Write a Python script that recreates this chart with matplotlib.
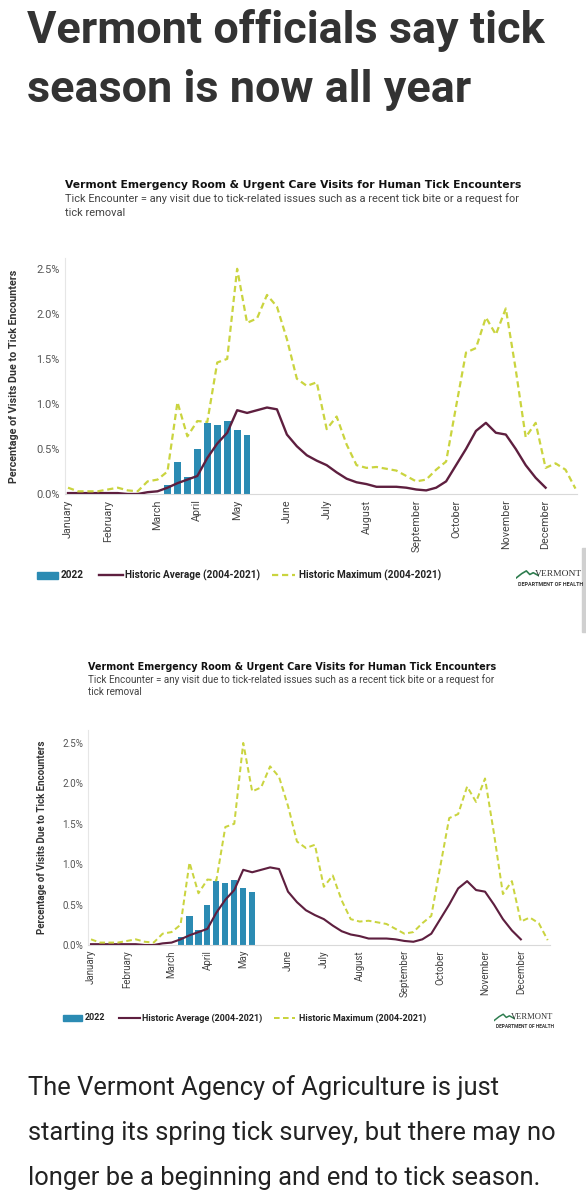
import numpy as np
import matplotlib
matplotlib.use("Agg")
import matplotlib.pyplot as plt
from matplotlib.patches import Rectangle
from matplotlib.lines import Line2D

# weekly data (% of ER / urgent care visits)
weeks_max = np.arange(1, 53)
hist_max = [0.07, 0.03, 0.03, 0.03, 0.05, 0.07, 0.04, 0.03, 0.14, 0.16,
            0.25, 1.02, 0.64, 0.81, 0.80, 1.46, 1.50, 2.50, 1.90, 1.95,
            2.21, 2.08, 1.72, 1.28, 1.20, 1.24, 0.72, 0.86, 0.55, 0.32,
            0.29, 0.30, 0.28, 0.26, 0.20, 0.14, 0.16, 0.27, 0.36, 0.97,
            1.57, 1.62, 1.96, 1.77, 2.06, 1.38, 0.63, 0.79, 0.29, 0.34,
            0.27, 0.06]
weeks_avg = np.arange(1, 50)
hist_avg = [0.01, 0.01, 0.01, 0.01, 0.01, 0.01, 0.00, 0.00, 0.02, 0.03,
            0.07, 0.12, 0.16, 0.20, 0.40, 0.56, 0.68, 0.93, 0.90, 0.93,
            0.96, 0.94, 0.66, 0.53, 0.43, 0.37, 0.32, 0.24, 0.17, 0.13,
            0.11, 0.08, 0.08, 0.08, 0.07, 0.05, 0.04, 0.07, 0.14, 0.32,
            0.50, 0.70, 0.79, 0.68, 0.66, 0.50, 0.32, 0.18, 0.07]
weeks_2022 = np.arange(11, 20)
visits_2022 = [0.10, 0.36, 0.19, 0.50, 0.79, 0.77, 0.81, 0.71, 0.66]

month_weeks = [1, 5, 10, 14, 18, 23, 27, 31, 36, 40, 45, 49]
month_names = ["January", "February", "March", "April", "May", "June", "July",
               "August", "September", "October", "November", "December"]
y_ticks = [0.0, 0.5, 1.0, 1.5, 2.0, 2.5]

BAR = "#2b8bb3"
AVG = "#5e1f3f"
MAX = "#cad43f"
W, H = 586, 1200

plt.rcParams['font.family'] = ['Roboto', 'DejaVu Sans']
fig = plt.figure(figsize=(W / 100, H / 100), dpi=100)
fig.patch.set_facecolor("white")


def fx(px):
    return px / W


def fy(py):
    return 1 - py / H


def pt(px):
    return px * 0.72


def draw_chart(left, bottom, right, top, k, ylim_top):
    # left/bottom/right/top: axes box in pixels, k: scale of the chart
    ax = fig.add_axes([fx(left), fy(bottom), fx(right - left), (bottom - top) / H])
    ax.bar(weeks_2022, visits_2022, width=0.68, color=BAR, zorder=2)
    ax.plot(weeks_avg, hist_avg, color=AVG, lw=1.7 * k, zorder=3)
    ax.plot(weeks_max, hist_max, color=MAX, lw=1.6 * k, dashes=(2.8, 1.7), zorder=3)
    ax.set_xlim(1 - 3 / (9.95 * k), 1 + (right - left - 3) / (9.95 * k))
    ax.set_ylim(0, ylim_top)
    ax.set_yticks(y_ticks)
    ax.set_yticklabels(["%.1f%%" % v for v in y_ticks], fontsize=pt(11 * k), color="#555555")
    ax.set_xticks(month_weeks)
    ax.set_xticklabels(month_names, rotation=90, fontsize=pt(10.8 * k), color="#444444", va="top")
    ax.tick_params(length=0, pad=4 * k)
    for s in ["top", "right"]:
        ax.spines[s].set_visible(False)
    ax.spines["left"].set_color("#e6e6e6")
    ax.spines["bottom"].set_color("#d9d9d9")
    ax.spines["left"].set_linewidth(0.8)
    ax.spines["bottom"].set_linewidth(0.8)
    ax.set_ylabel("Percentage of Visits Due to Tick Encounters", fontsize=pt(10.8 * k),
                  fontweight="bold", color="#333333")
    ax.yaxis.set_label_coords(-46 * k / (right - left), 0.5)

    fig.text(fx(left), fy(bottom - 309 * k), "Vermont Emergency Room & Urgent Care Visits for Human Tick Encounters",
             family="DejaVu Sans", fontsize=pt(10.7 * k), fontweight="bold", color="#111111", va="center")
    fig.text(fx(left), fy(bottom - 295 * k),
             "Tick Encounter = any visit due to tick-related issues such as a recent tick bite or a request for",
             fontsize=pt(11 * k), color="#444444", va="center")
    fig.text(fx(left), fy(bottom - 281 * k), "tick removal",
             fontsize=pt(11 * k), color="#444444", va="center")

    # legend
    ly = fy(bottom + 81 * k)
    fig.patches.append(Rectangle((fx(left - 28 * k), ly - 3.5 * k / H), 21 * k / W, 7 * k / H,
                                 transform=fig.transFigure, color=BAR))
    fig.lines.append(Line2D([fx(left + 34 * k), fx(left + 58 * k)], [ly, ly],
                            transform=fig.transFigure, color=AVG, lw=1.7 * k))
    fig.lines.append(Line2D([fx(left + 207 * k), fx(left + 230 * k)], [ly, ly],
                            transform=fig.transFigure, color=MAX, lw=1.6 * k, dashes=(2.8, 1.7)))
    lfs = pt(10 * k)
    fig.text(fx(left - 4 * k), ly, "2022", fontsize=lfs, fontweight="bold", color="#222222", va="center")
    fig.text(fx(left + 60 * k), ly, "Historic Average (2004-2021)", fontsize=lfs,
             fontweight="bold", color="#222222", va="center")
    fig.text(fx(left + 234 * k), ly, "Historic Maximum (2004-2021)", fontsize=lfs,
             fontweight="bold", color="#222222", va="center")

    # Vermont Department of Health mark
    lg = fig.add_axes([fx(left + 451 * k), fy(bottom + 85 * k), 23 * k / W, 9 * k / H])
    lg.plot([0, 0.25, 0.45, 0.6, 0.75, 1.0], [0.1, 0.6, 0.9, 0.5, 0.7, 0.35], color="#2e7d4f", lw=1.2 * k)
    lg.set_xlim(0, 1)
    lg.set_ylim(0, 1)
    lg.axis("off")
    fig.text(fx(left + 517 * k), fy(bottom + 80 * k), "VERMONT", family="Liberation Serif",
             fontsize=pt(9.5 * k), color="#333333", ha="right", va="center")
    fig.text(fx(left + 518 * k), fy(bottom + 91 * k), "DEPARTMENT OF HEALTH",
             fontsize=pt(5.4 * k), fontweight="bold", color="#333333", ha="right", va="center")
    return ax


fig.text(fx(27), fy(30), "Vermont officials say tick", fontsize=pt(45), fontweight="bold",
         color="#333333", va="center")
fig.text(fx(27), fy(90), "season is now all year", fontsize=pt(45), fontweight="bold",
         color="#333333", va="center")

draw_chart(65, 494, 577, 258, 1.0, 2.62)
draw_chart(88, 945, 550, 730, 0.9, 2.66)

# scrollbar strip at the right edge
fig.patches.append(Rectangle((fx(582), fy(632)), fx(4), 84 / H, transform=fig.transFigure,
                             color="#d0d0d0"))

body = ["The Vermont Agency of Agriculture is just",
        "starting its spring tick survey, but there may no",
        "longer be a beginning and end to tick season."]
for i, line in enumerate(body):
    fig.text(fx(28), fy(1088 + 45 * i), line, fontsize=pt(25.5), color="#222222", va="center")

fig.savefig("out.png", dpi=100)
